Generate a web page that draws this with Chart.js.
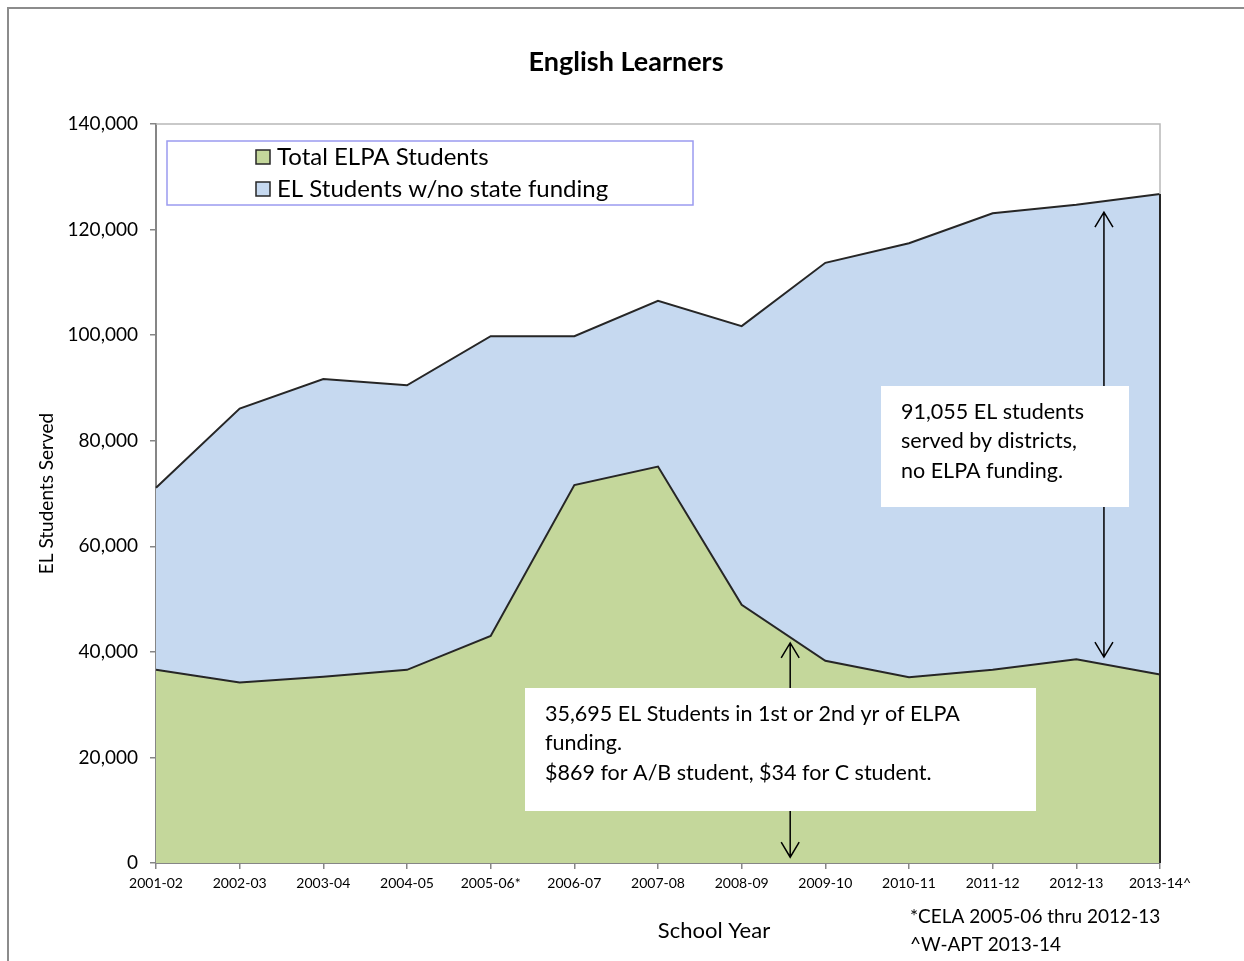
<!DOCTYPE html>
<html>
<head>
<meta charset="utf-8">
<title>English Learners</title>
<script src="https://cdn.jsdelivr.net/npm/chart.js@4/dist/chart.umd.min.js"></script>
<style>
  body { margin: 0; background: #fff; }
  canvas { display: block; }
</style>
</head>
<body>
<canvas id="elChart" width="1244" height="961"></canvas>
<script>
// School years on the x axis
const schoolYears = ['2001-02', '2002-03', '2003-04', '2004-05', '2005-06*', '2006-07',
  '2007-08', '2008-09', '2009-10', '2010-11', '2011-12', '2012-13', '2013-14^'];

// Students counted for ELPA funding (bottom area)
const elpaStudents = [36600, 34200, 35300, 36600, 43000, 71600, 75100, 48900, 38300, 35200, 36600, 38600, 35695];

// EL students with no state funding (stacked on top)
const noFundingStudents = [34500, 51900, 56400, 53900, 56800, 28200, 31400, 52800, 75400, 82200, 86500, 86100, 91055];

const yTicks = [0, 20000, 40000, 60000, 80000, 100000, 120000, 140000];

const chartTitle = 'English Learners';
const xTitle = 'School Year';
const yTitle = 'EL Students Served';
const footnotes = ['*CELA 2005-06 thru 2012-13', '^W-APT 2013-14'];
const noFundingNote = ['91,055 EL students', 'served by districts,', 'no ELPA funding.'];
const elpaNote = ['35,695 EL Students in 1st or 2nd yr of ELPA', 'funding.', '$869 for A/B student, $34 for C student.'];

const FONT = 'Lato, "Open Sans", sans-serif';

function drawArrow(ctx, x, y1, y2) {
  ctx.save();
  ctx.strokeStyle = '#000';
  ctx.lineWidth = 1.5;
  ctx.beginPath();
  ctx.moveTo(x, y1);
  ctx.lineTo(x, y2);
  // open heads at both ends
  ctx.moveTo(x - 9, y1 + 15);
  ctx.lineTo(x, y1);
  ctx.lineTo(x + 9, y1 + 15);
  ctx.moveTo(x - 9, y2 - 15);
  ctx.lineTo(x, y2);
  ctx.lineTo(x + 9, y2 - 15);
  ctx.stroke();
  ctx.restore();
}

function drawNote(ctx, box, lines, textX, firstY) {
  ctx.save();
  ctx.fillStyle = '#fff';
  ctx.fillRect(box.x, box.y, box.w, box.h);
  ctx.fillStyle = '#000';
  ctx.font = '21.5px ' + FONT;
  ctx.textAlign = 'left';
  ctx.textBaseline = 'middle';
  lines.forEach((t, i) => ctx.fillText(t, textX, firstY + i * 29.5));
  ctx.restore();
}

const extrasPlugin = {
  id: 'extras',
  beforeDraw(chart) {
    const ctx = chart.ctx;
    // outer chart frame (cropped, only top and left visible)
    ctx.save();
    ctx.strokeStyle = '#8c8c8c';
    ctx.lineWidth = 2;
    ctx.beginPath();
    ctx.moveTo(8, 961);
    ctx.lineTo(8, 8);
    ctx.lineTo(1244, 8);
    ctx.stroke();
    ctx.restore();
  },
  afterDraw(chart) {
    const ctx = chart.ctx;
    const area = chart.chartArea;
    const xs = chart.scales.x;
    const ys = chart.scales.y;

    // plot area frame, top and right
    ctx.save();
    ctx.strokeStyle = '#b8b8b8';
    ctx.lineWidth = 1.5;
    ctx.beginPath();
    ctx.moveTo(area.left, area.top);
    ctx.lineTo(area.right, area.top);
    ctx.lineTo(area.right, area.bottom);
    ctx.stroke();
    // dark edge of the area at the last year
    const last = schoolYears.length - 1;
    ctx.strokeStyle = '#262626';
    ctx.lineWidth = 2;
    ctx.beginPath();
    ctx.moveTo(area.right, ys.getPixelForValue(elpaStudents[last] + noFundingStudents[last]));
    ctx.lineTo(area.right, area.bottom);
    ctx.stroke();
    ctx.restore();

    // title
    ctx.save();
    ctx.fillStyle = '#000';
    ctx.font = 'bold 27px ' + FONT;
    ctx.textAlign = 'center';
    ctx.textBaseline = 'middle';
    ctx.fillText(chartTitle, 626, 62);
    ctx.restore();

    // legend
    ctx.save();
    ctx.fillStyle = '#fff';
    ctx.fillRect(167, 141, 526, 64);
    ctx.strokeStyle = '#9b9bf0';
    ctx.lineWidth = 1.5;
    ctx.strokeRect(167, 141, 526, 64);
    chart.data.datasets.forEach((ds, i) => {
      const cy = 157 + i * 32;
      ctx.fillStyle = ds.backgroundColor;
      ctx.fillRect(256, cy - 7, 14, 14);
      ctx.strokeStyle = '#262626';
      ctx.lineWidth = 1.5;
      ctx.strokeRect(256, cy - 7, 14, 14);
      ctx.fillStyle = '#000';
      ctx.font = '24px ' + FONT;
      ctx.textAlign = 'left';
      ctx.textBaseline = 'middle';
      ctx.fillText(ds.label, 277, cy);
    });
    ctx.restore();

    // arrows then note boxes
    const rx = xs.getPixelForValue(11.33);
    drawArrow(ctx, rx, ys.getPixelForValue(123300), ys.getPixelForValue(39000));
    const lx = xs.getPixelForValue(7.58);
    drawArrow(ctx, lx, ys.getPixelForValue(41700), ys.getPixelForValue(1100));

    drawNote(ctx, { x: 881, y: 386, w: 248, h: 121 }, noFundingNote, 901, 412);
    drawNote(ctx, { x: 525, y: 688, w: 511, h: 123 }, elpaNote, 545, 714);

    // x axis title and footnotes
    ctx.save();
    ctx.fillStyle = '#000';
    ctx.font = '22px ' + FONT;
    ctx.textAlign = 'center';
    ctx.textBaseline = 'middle';
    ctx.fillText(xTitle, 714, 931);
    ctx.font = '19px ' + FONT;
    ctx.textAlign = 'left';
    footnotes.forEach((t, i) => ctx.fillText(t, 910, 917 + i * 28));
    ctx.restore();
  }
};

const ctx = document.getElementById('elChart').getContext('2d');
const elChart = new Chart(ctx, {
  type: 'line',
  data: {
    labels: schoolYears,
    datasets: [
      {
        label: 'Total ELPA Students',
        data: elpaStudents,
        fill: 'origin',
        backgroundColor: '#c4d79b',
        borderColor: '#262626',
        borderWidth: 2,
        pointRadius: 0,
        tension: 0
      },
      {
        label: 'EL Students w/no state funding',
        data: noFundingStudents,
        fill: '-1',
        backgroundColor: '#c6d9f0',
        borderColor: '#262626',
        borderWidth: 2,
        pointRadius: 0,
        tension: 0
      }
    ]
  },
  options: {
    responsive: false,
    animation: false,
    devicePixelRatio: 1,
    layout: { padding: { left: 0, top: 124, right: 84, bottom: 0 } },
    plugins: {
      legend: { display: false },
      tooltip: { enabled: false }
    },
    scales: {
      x: {
        offset: false,
        grid: { drawOnChartArea: false, tickLength: 6, color: '#868686', lineWidth: 1.5 },
        border: { color: '#868686', width: 2 },
        ticks: {
          color: '#000',
          font: { family: FONT, size: 14 },
          maxRotation: 0,
          autoSkip: false,
          padding: 6
        },
        afterFit(scale) { scale.height = 98; }
      },
      y: {
        stacked: true,
        min: 0,
        max: 140000,
        grid: { drawOnChartArea: false, tickLength: 6, color: '#868686', lineWidth: 1.5 },
        border: { color: '#868686', width: 2 },
        afterBuildTicks(scale) { scale.ticks = yTicks.map(v => ({ value: v })); },
        ticks: {
          color: '#000',
          font: { family: FONT, size: 19 },
          padding: 12,
          callback: v => v.toLocaleString('en-US')
        },
        title: {
          display: true,
          text: yTitle,
          color: '#000',
          font: { family: FONT, size: 19 },
          padding: { top: 35, bottom: 0 }
        },
        afterFit(scale) { scale.width = 156; }
      }
    }
  },
  plugins: [extrasPlugin]
});
</script>
</body>
</html>
